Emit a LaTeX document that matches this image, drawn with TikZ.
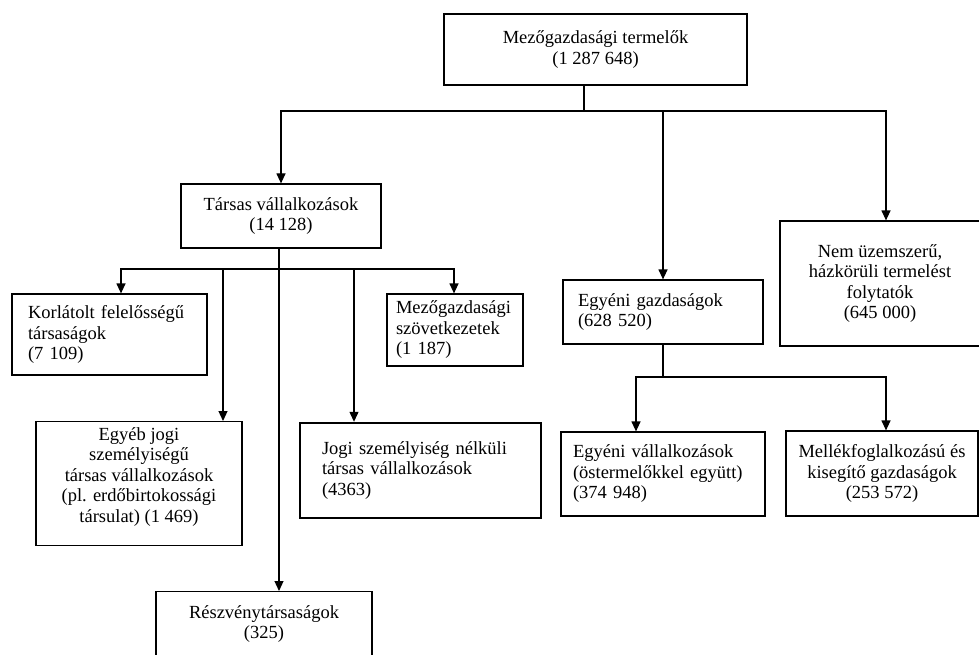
\documentclass[tikz,border=0pt]{standalone}
\usepackage{fontspec}
\setmainfont{Liberation Serif}
\usetikzlibrary{arrows.meta}
\begin{document}
\begin{tikzpicture}[x=1pt,y=-1pt,
  txt/.style={font=\fontsize{18.5}{20.5}\selectfont},
  box/.style={draw, line width=1.2pt, inner sep=0pt, txt},
  cbox/.style={box, align=center},
  lbox/.style={box, align=left},
  thickbox/.style={lbox, line width=2.4pt},
  conn/.style={line width=1.2pt},
  arr/.style={conn, -{Triangle[length=10pt,width=9pt]}}]
\useasboundingbox (0,0) rectangle (979,655);

% boxes
\node[cbox, minimum width=303, minimum height=71] (top) at (595.5,49.5)
  {Mezőgazdasági termelők\\(1 287 648)};
\node[cbox, minimum width=200, minimum height=64] (tars) at (281,216)
  {Társas vállalkozások\\(14 128)};
\node[lbox, minimum width=200, minimum height=64, text width=170] (egy) at (663,312)
  {Egyéni gazdaságok\\(628 520)};
\node[cbox, minimum width=200, minimum height=125] (nem) at (880,283.5)
  {Nem üzemszerű,\\házkörüli termelést\\folytatók\\(645 000)};
\node[lbox, minimum width=195, minimum height=81, text width=163] (korl) at (109.5,334.5)
  {Korlátolt felelősségű\\társaságok\\(7 109)};
\node[lbox, minimum width=136, minimum height=72, text width=118] (mezo) at (455,330)
  {Mezőgazdasági\\szövetkezetek\\(1 187)};
\node[box, minimum width=206, minimum height=124, anchor=north] (egyeb) at (139,421) {};
\node[txt, align=center, inner sep=0pt, anchor=north] (egyebtxt) at (139,427)
  {Egyéb jogi\\személyiségű\\társas vállalkozások\\(pl. erdőbirtokossági\\társulat) (1 469)};
\node[thickbox, minimum width=241, minimum height=95, text width=197] (jogi) at (420.5,470.5)
  {Jogi személyiség nélküli\\társas vállalkozások\\(4363)};
\node[box, minimum width=216, minimum height=90, anchor=north] (resz) at (264,591) {};
\node[txt, align=center, inner sep=0pt] (resztxt) at (264,624) {Részvénytársaságok\\(325)};
\node[lbox, minimum width=204, minimum height=84, text width=180] (ev) at (663,474)
  {Egyéni vállalkozások\\(östermelőkkel együtt)\\(374 948)};
\node[cbox, minimum width=192, minimum height=85] (mell) at (882,473.5)
  {Mellékfoglalkozású és\\kisegítő gazdaságok\\(253 572)};

% junctions
\coordinate (j0) at (584,111);
\coordinate (j1) at (279,269);
\coordinate (j2) at (663,377);

% level 1
\draw[conn] (top.south -| j0) -- (j0);
\draw[arr] (j0) -| (tars.north);
\draw[arr] (j0) -| (egy.north);
\draw[arr] (j0) -| ([xshift=6pt]nem.north);

% Társas children
\draw[conn] (tars.south -| j1) -- (j1);
\draw[arr] (j1) -| ([xshift=11.5pt]korl.north);
\draw[arr] (j1) -| ([xshift=-1pt]mezo.north);
\draw[arr] ([xshift=-56pt]j1) -- ([xshift=-56pt]j1 |- egyeb.north);
\draw[arr] ([xshift=75pt]j1) -- ([xshift=75pt]j1 |- jogi.north);
\draw[arr] (j1) -- (j1 |- resz.north);

% Egyéni gazdaságok children
\draw[conn] (egy.south) -- (j2);
\draw[arr] (j2) -| ([xshift=-27pt]ev.north);
\draw[arr] (j2) -| ([xshift=4pt]mell.north);
\end{tikzpicture}
\end{document}
